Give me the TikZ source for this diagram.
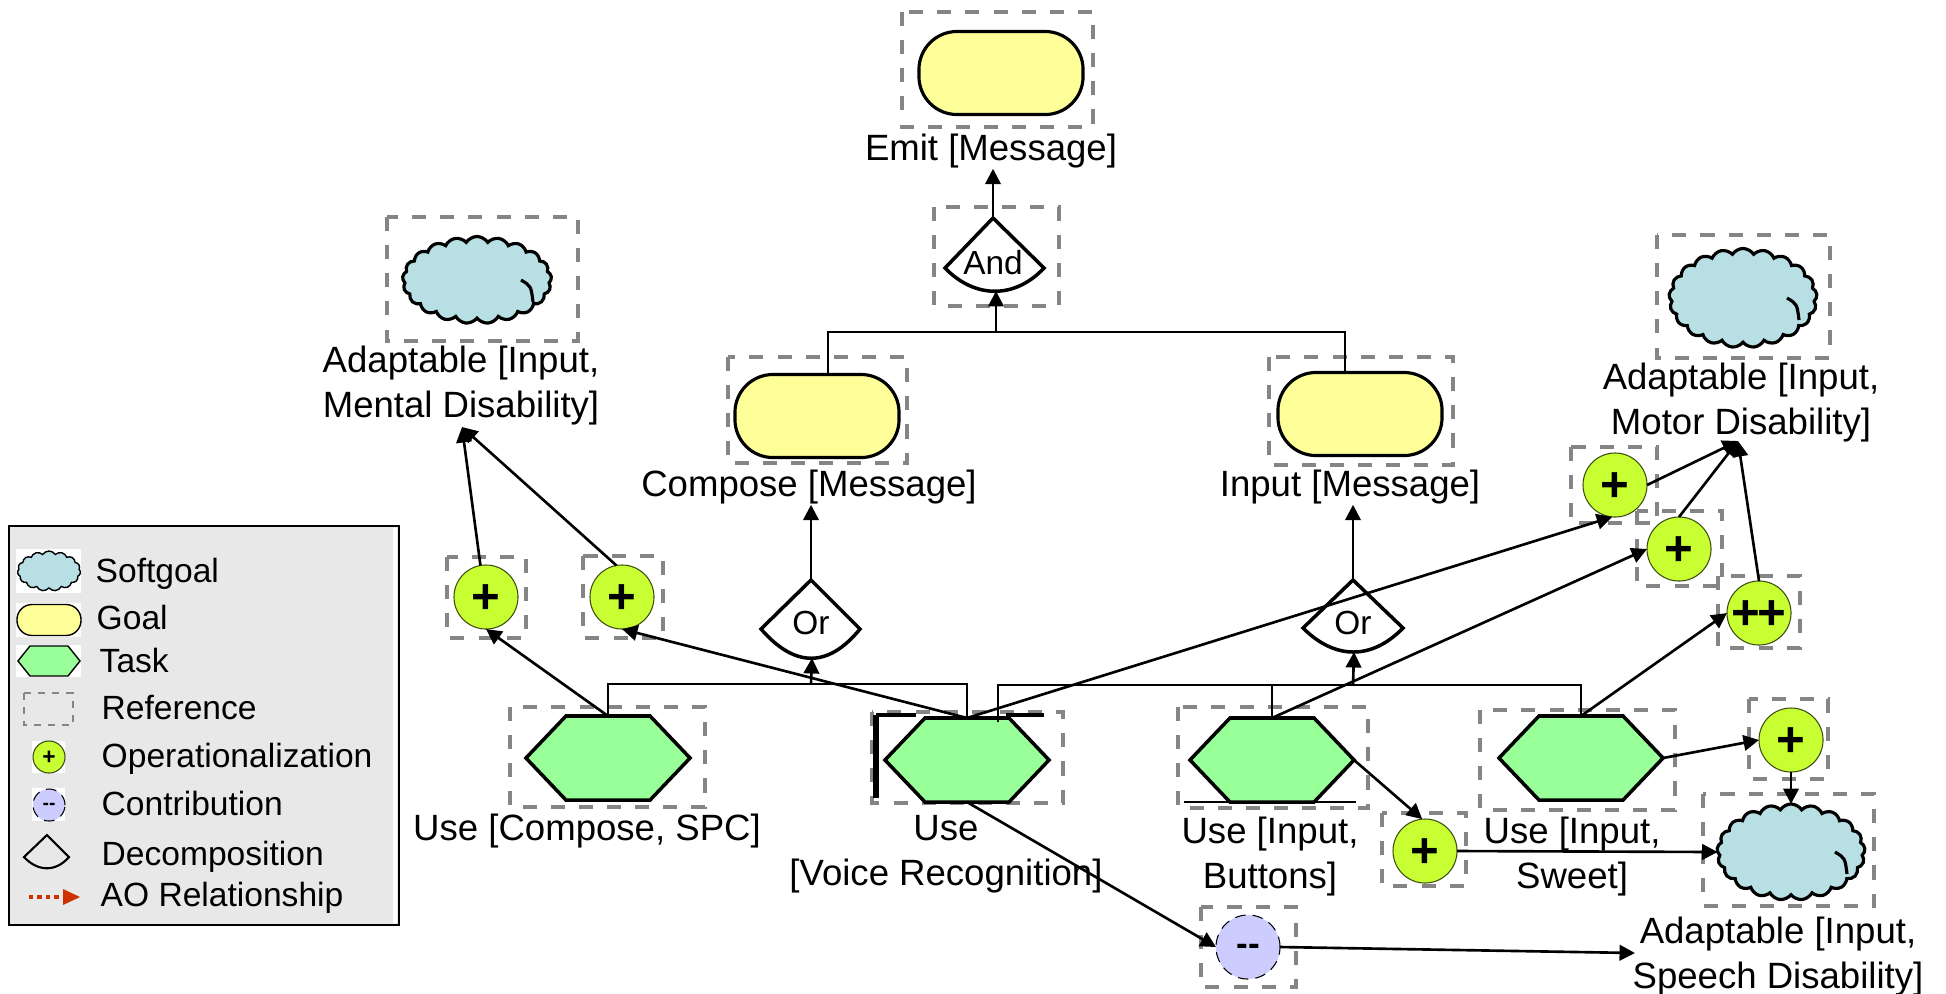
\documentclass[tikz,border=0pt]{standalone}
\usepackage{fontspec}
\setmainfont{Liberation Sans}
\usetikzlibrary{arrows.meta, shapes}
\definecolor{softblue}{HTML}{B8DFE3}
\definecolor{goalyellow}{HTML}{FFFF99}
\definecolor{taskgreen}{HTML}{99FF99}
\definecolor{opgreen}{HTML}{C8FF33}
\definecolor{conblue}{HTML}{CCCCFF}
\definecolor{refgray}{HTML}{858585}
\definecolor{legendgray}{HTML}{E8E8E8}
\definecolor{aored}{HTML}{CC3300}
\tikzset{
  refbox/.style = {draw=refgray, line width=1.1pt, dash pattern=on 4pt off 4pt},
  goalnode/.style = {draw, fill=goalyellow, line width=0.9pt, rounded corners=0.38cm,
    minimum width=1.64cm, minimum height=0.83cm, inner sep=0pt, outer sep=0pt},
  tasknode/.style = {signal, signal to=west and east, signal pointer angle=92.8, draw, fill=taskgreen,
    line width=1pt, minimum width=1.64cm, minimum height=0.84cm, inner sep=0pt, outer sep=0pt},
  softnode/.style = {cloud, cloud puffs=21, cloud puff arc=115, cloud ignores aspect,
    draw, fill=softblue, line width=0.9pt, inner sep=0pt, outer sep=0pt},
  softmark/.style = {line width=0.9pt},
  opnode/.style = {circle, draw=black!70!opgreen, fill=opgreen, line width=0.3pt, text height=9.4pt,
    minimum size=0.64cm, inner sep=0pt, outer sep=0pt, font=\fontsize{14}{14}\selectfont\bfseries},
  connode/.style = {circle, draw, densely dashed, fill=conblue, line width=0.3pt, text height=5pt,
    minimum size=0.64cm, inner sep=0pt, outer sep=0pt, font=\fontsize{10}{10}\selectfont\bfseries},
  decomp/.style = {draw, line width=1pt},
  label/.style = {inner sep=0pt, align=center, font=\fontsize{10.4}{12.8}\selectfont},
  legendlabel/.style = {inner sep=0pt, anchor=base west, font=\fontsize{9.55}{11}\selectfont},
  link/.style = {line width=0.75pt},
  linkarrow/.style = {line width=0.75pt, -{Triangle[length=4.4pt, width=4.4pt]}}
}

\begin{document}
\begin{tikzpicture}[x=0.01cm, y=-0.01cm]
  \useasboundingbox (0,0) rectangle (1946,993);

  % Reference boxes
  \draw[refbox] (902,12) rectangle (1093,127);
  \draw[refbox] (934,207) rectangle (1059,306);
  \draw[refbox] (728,357) rectangle (907,463);
  \draw[refbox] (1269,357) rectangle (1453,465);
  \draw[refbox] (387,217) rectangle (578,341);
  \draw[refbox] (1657,235) rectangle (1830,358);
  \draw[refbox] (1703,794) rectangle (1874,906);
  \draw[refbox] (510,707) rectangle (705,807);
  \draw[refbox] (872,712) rectangle (1063,803);
  \draw[refbox] (1178,707) rectangle (1368,808);
  \draw[refbox] (1480,710) rectangle (1675,810);
  \draw[refbox] (447,557) rectangle (526,638);
  \draw[refbox] (583,556) rectangle (663,638);
  \draw[refbox] (1571,447) rectangle (1657,523);
  \draw[refbox] (1637,511) rectangle (1722,586);
  \draw[refbox] (1718,576) rectangle (1800,648);
  \draw[refbox] (1749,699) rectangle (1828,779);
  \draw[refbox] (1382,813) rectangle (1466,886);
  \draw[refbox] (1201,907) rectangle (1296,987);

  % Goals
  \node[goalnode] (goalemit) at (1001,73) {};
  \node[goalnode] (goalcompose) at (817,416) {};
  \node[goalnode] (goalinput) at (1360,414) {};
  \node[label] (emitlabel) at (991,151) {Emit [Message]};
  \node[label] (composelabel) at (809,487) {Compose [Message]};
  \node[label] (inputlabel) at (1350,487) {Input [Message]};

  % Softgoals
  \node[softnode, minimum width=1.49cm, minimum height=0.87cm] (softmental) at (477,280) {};
  \node[softnode, minimum width=1.48cm, minimum height=0.99cm] (softmotor) at (1743,298) {};
  \node[softnode, minimum width=1.48cm, minimum height=0.96cm] (softspeech) at (1791,852) {};
  \draw[softmark] ([shift={(44,0)}]softmental.center) .. controls ([shift={(54,6)}]softmental.center) .. ([shift={(56,22)}]softmental.center);
  \draw[softmark] ([shift={(44,0)}]softmotor.center) .. controls ([shift={(54,6)}]softmotor.center) .. ([shift={(56,22)}]softmotor.center);
  \draw[softmark] ([shift={(44,0)}]softspeech.center) .. controls ([shift={(54,6)}]softspeech.center) .. ([shift={(56,22)}]softspeech.center);
  \node[label] (mentallabel) at (461,386) {Adaptable [Input,\\Mental Disability]};
  \node[label] (motorlabel) at (1741,403) {Adaptable [Input,\\Motor Disability]};
  \node[label] (speechlabel) at (1778,957) {Adaptable [Input,\\Speech Disability]};

  % Tasks
  \node[tasknode] (taskcompose) at (608,758) {};
  \node[tasknode] (taskvoice) at (967,760) {};
  \node[tasknode] (taskbuttons) at (1272,760) {};
  \node[tasknode] (tasksweet) at (1581,758) {};
  \node[label] (composetasklabel) at (587,831) {Use [Compose, SPC]};
  \node[label] (voicelabel) at (946,854) {Use\\{}[Voice Recognition]};
  \node[label] (buttonslabel) at (1270,857) {Use [Input,\\Buttons]};
  \node[label] (sweetlabel) at (1572,857) {Use [Input,\\Sweet]};
  \draw[line width=1.9pt] (876,715) -- (876,798);
  \draw[line width=0.9pt] (876,715) -- (916,715);
  \draw[line width=0.9pt] (1006,715) -- (1044,715);
  \draw[line width=0.4pt] (1184,802) -- (1356,802);

  % Decompositions
  \coordinate (andtop) at (993,218);
  \coordinate (andbottom) at (996,291);
  \draw[decomp] (andtop) -- (945,268) .. controls (975,299) and (1015,299) .. (1044,268) -- cycle;
  \node[label, font=\fontsize{9.5}{11}\selectfont] (andlabel) at (993,263) {And};
  \coordinate (orlefttop) at (811,580);
  \coordinate (orleftbottom) at (812,658);
  \draw[decomp] (orlefttop) -- (761,629) .. controls (795,668) and (828,668) .. (860,629) -- cycle;
  \node[label, font=\fontsize{9.5}{11}\selectfont] (orleftlabel) at (811,623) {Or};
  \coordinate (orrighttop) at (1353,580);
  \coordinate (orrightbottom) at (1354,652);
  \draw[decomp] (orrighttop) -- (1303,628) .. controls (1335,660) and (1372,660) .. (1403,628) -- cycle;
  \node[label, font=\fontsize{9.5}{11}\selectfont] (orrightlabel) at (1353,623) {Or};

  % Operationalizations
  \node[opnode] (opmentala) at (486,597) {+};
  \node[opnode] (opmentalb) at (622,597) {+};
  \node[opnode] (opmotora) at (1615,485) {+};
  \node[opnode] (opmotorb) at (1679,549) {+};
  \node[opnode] (opmotorc) at (1759,613) {+\kern-0.05em+};
  \node[opnode] (opsweet) at (1791,740) {+};
  \node[opnode] (opbuttons) at (1425,851) {+};
  \node[connode] (convoice) at (1248,947) {-{}-};

  % Decomposition links
  \coordinate (jointtop) at (996,332);
  \coordinate (composetop) at (828,375);
  \coordinate (inputtop) at (1345,372);
  \coordinate (jointleft) at (811,684);
  \coordinate (jointright) at (1353,685);
  \coordinate (voiceright) at (998,722);
  \draw[link] (composetop) |- (jointtop) -| (inputtop);
  \draw[linkarrow] (jointtop) -- (andbottom);
  \draw[linkarrow] (andtop) -- (andtop |- emitlabel.south);
  \draw[link] (taskcompose.north) |- (jointleft) -| (taskvoice.north);
  \draw[linkarrow] (jointleft) -- (orleftbottom);
  \draw[linkarrow] (orlefttop) -- (orlefttop |- composelabel.south);
  \draw[link] (voiceright) |- (jointright) -| (tasksweet.north);
  \draw[link] (taskbuttons.north) |- (jointright);
  \draw[linkarrow] (jointright) -- (orrightbottom);
  \draw[linkarrow] (orrighttop) -- (orrighttop |- inputlabel.south);

  % Contribution links
  \coordinate (mentalin) at (462,427);
  \coordinate (motorin) at (1738,441);
  \coordinate (speechin) at (1635,953);
  \draw[linkarrow] (taskcompose.north) -- (opmentala.south);
  \draw[linkarrow] (taskvoice.north) -- (opmentalb.south);
  \draw[linkarrow] (opmentala.100) -- (mentalin);
  \draw[linkarrow] (opmentalb.100) -- (mentalin);
  \draw[linkarrow] (taskvoice.north) -- (opmotora.-95);
  \draw[linkarrow] (taskbuttons.north) -- (opmotorb.west);
  \draw[linkarrow] (tasksweet.north) -- (opmotorc.west);
  \draw[linkarrow] (opmotora.east) -- (motorin);
  \draw[linkarrow] (opmotorb.north) -- (motorin);
  \draw[linkarrow] (opmotorc.north) -- (motorin);
  \draw[linkarrow] (tasksweet.east) -- (opsweet.west);
  \draw[linkarrow] (opsweet.south) -- (softspeech.north);
  \draw[linkarrow] (taskbuttons.east) -- (opbuttons.95);
  \draw[linkarrow] (opbuttons.east) -- (softspeech.west);
  \draw[linkarrow] (taskvoice.south) -- (convoice.west);
  \draw[linkarrow] (convoice.east) -- (speechin);

  % Legend
  \draw[fill=legendgray, line width=0.6pt] (9,526) rectangle (399,925);
  \fill[white] (393,528) rectangle (397,923);
  \fill[white] (16,549) rectangle (81,593);
  \fill[white] (16,603) rectangle (81,637);
  \fill[white] (16,645) rectangle (81,677);
  \fill[white] (32,741) rectangle (65,773);
  \fill[white] (32,788) rectangle (65,821);
  \node[softnode, line width=0.4pt, cloud puffs=15, minimum width=0.63cm, minimum height=0.40cm] (legendsoft) at (49,571) {};
  \node[goalnode, line width=0.4pt, rounded corners=0.15cm, minimum width=0.64cm, minimum height=0.31cm] (legendgoal) at (49,620) {};
  \node[tasknode, line width=0.4pt, signal pointer angle=102.7, minimum width=0.62cm, minimum height=0.30cm] (legendtask) at (49,661) {};
  \draw[refbox, line width=0.5pt, dash pattern=on 2pt off 2pt] (24,693) rectangle (73,725);
  \node[opnode, minimum size=0.32cm, text height=4.3pt, font=\fontsize{6.5}{7}\selectfont\bfseries] (legendop) at (49,757) {+};
  \node[connode, minimum size=0.32cm, text height=2.7pt, font=\fontsize{5.5}{6}\selectfont\bfseries] (legendcon) at (49,805) {-{}-};
  \draw[decomp, line width=0.6pt] (47,835) -- (24,857) .. controls (38,872) and (56,872) .. (69,857) -- cycle;
  \draw[aored, line width=0.9pt, dash pattern=on 1.2pt off 1.2pt] (29,897) -- (63,897);
  \fill[aored] (63,889) -- (80,897) -- (63,905) -- cycle;
  \node[legendlabel] (softlabel) at (95,582) {Softgoal};
  \node[legendlabel] (goallabel) at (96,629) {Goal};
  \node[legendlabel] (tasklabel) at (99,672) {Task};
  \node[legendlabel] (reflabel) at (101,719) {Reference};
  \node[legendlabel] (oplabel) at (101,767) {Operationalization};
  \node[legendlabel] (conlabel) at (101,815) {Contribution};
  \node[legendlabel] (decomplabel) at (101,865) {Decomposition};
  \node[legendlabel] (aolabel) at (100,906) {AO Relationship};

\end{tikzpicture}
\end{document}
